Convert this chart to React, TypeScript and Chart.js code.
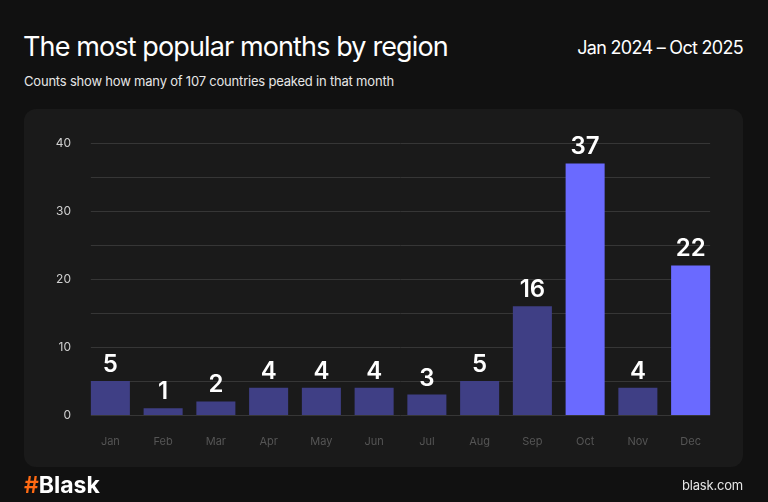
import React, { useEffect, useRef } from 'react';
import { Chart, registerables } from 'chart.js';

Chart.register(...registerables);

const months = ['Jan', 'Feb', 'Mar', 'Apr', 'May', 'Jun', 'Jul', 'Aug', 'Sep', 'Oct', 'Nov', 'Dec'];
const counts = [5, 1, 2, 4, 4, 4, 3, 5, 16, 37, 4, 22];
const highlightedMonths = ['Oct', 'Dec'];
const yTickValues = [0, 10, 20, 30, 40];
const gridValues = [0, 5, 10, 15, 20, 25, 30, 35, 40];

const FONT = 'Inter, "Noto Sans", sans-serif';

const gridPlugin = {
  id: 'customGrid',
  beforeDatasetsDraw(chart: any) {
    const meta = chart.getDatasetMeta(0);
    if (!meta.data.length) return;
    const first = meta.data[0].getProps(['x', 'width'], true);
    const last = meta.data[meta.data.length - 1].getProps(['x', 'width'], true);
    const left = first.x - first.width / 2;
    const right = last.x + last.width / 2;
    const ctx = chart.ctx;
    const ys = chart.scales.y;
    ctx.save();
    ctx.strokeStyle = '#363636';
    ctx.lineWidth = 1;
    gridValues.forEach((v) => {
      const py = Math.round(ys.getPixelForValue(v)) + 0.5;
      ctx.beginPath();
      ctx.moveTo(left, py);
      ctx.lineTo(right, py);
      ctx.stroke();
    });
    ctx.restore();
  },
};

const labelPlugin = {
  id: 'valueLabels',
  afterDatasetsDraw(chart: any) {
    const meta = chart.getDatasetMeta(0);
    const ctx = chart.ctx;
    ctx.save();
    ctx.fillStyle = '#ffffff';
    ctx.font = `600 24px ${FONT}`;
    ctx.textAlign = 'center';
    ctx.textBaseline = 'alphabetic';
    meta.data.forEach((bar: any, i: number) => {
      const p = bar.getProps(['x', 'y'], true);
      ctx.fillText(String(counts[i]), p.x, p.y - 9);
    });
    ctx.restore();
  },
};

export default function App() {
  const canvasRef = useRef<HTMLCanvasElement | null>(null);

  useEffect(() => {
    document.body.style.margin = '0';
    const canvas = canvasRef.current;
    if (!canvas) return;
    const chart = new Chart(canvas, {
      type: 'bar',
      data: {
        labels: months,
        datasets: [
          {
            data: counts,
            backgroundColor: months.map((m) => (highlightedMonths.includes(m) ? '#6a6aff' : '#3f3f85')),
            borderWidth: 0,
            barPercentage: 0.74,
            categoryPercentage: 1,
          },
        ],
      },
      options: {
        responsive: false,
        animation: false,
        devicePixelRatio: 1,
        layout: { padding: { top: 143, right: 51, left: 0, bottom: 0 } },
        plugins: { legend: { display: false }, tooltip: { enabled: false } },
        scales: {
          x: {
            grid: { display: false, drawTicks: false },
            border: { display: false },
            ticks: { color: '#555555', font: { family: FONT, size: 11 }, padding: 20 },
            afterFit: (s: any) => {
              s.height = 87;
            },
          },
          y: {
            min: 0,
            max: 40,
            grid: { display: false, drawTicks: false },
            border: { display: false },
            afterBuildTicks: (s: any) => {
              s.ticks = yTickValues.map((v) => ({ value: v }));
            },
            ticks: { color: '#d0d0d0', font: { family: FONT, size: 12 }, padding: 13 },
            afterFit: (s: any) => {
              s.width = 84;
            },
          },
        },
      },
      plugins: [gridPlugin, labelPlugin],
    });
    return () => chart.destroy();
  }, []);

  return (
    <div
      style={{
        position: 'absolute',
        left: 0,
        top: 0,
        width: 768,
        height: 502,
        background: '#111111',
        overflow: 'hidden',
        fontFamily: FONT,
        color: '#ffffff',
      }}
    >
      <div style={{ position: 'absolute', left: 23, top: 29, fontSize: 27, letterSpacing: -0.88, lineHeight: '36px', whiteSpace: 'nowrap' }}>
        The most popular months by region
      </div>
      <div style={{ position: 'absolute', right: 25, top: 36, fontSize: 18, letterSpacing: -0.7, lineHeight: '24px', whiteSpace: 'nowrap' }}>
        Jan 2024 – Oct 2025
      </div>
      <div style={{ position: 'absolute', left: 24, top: 72, fontSize: 13, letterSpacing: -0.2, lineHeight: '18px', color: '#e6e6e6', whiteSpace: 'nowrap' }}>
        Counts show how many of 107 countries peaked in that month
      </div>
      <div
        style={{
          position: 'absolute',
          left: 24,
          top: 109,
          width: 719,
          height: 358,
          background: '#1a1a1a',
          borderRadius: 12,
        }}
      />
      <canvas ref={canvasRef} width={768} height={502} style={{ position: 'absolute', left: 0, top: 0, width: 768, height: 502 }} />
      <div style={{ position: 'absolute', left: 24, top: 472, fontSize: 23, fontWeight: 700, lineHeight: '26px', whiteSpace: 'nowrap', letterSpacing: 0 }}>
        <span style={{ color: '#ff6a13', fontWeight: 600 }}>#</span>
        <span>Blask</span>
      </div>
      <div style={{ position: 'absolute', right: 25, top: 476, fontSize: 13, lineHeight: '18px', color: '#e6e6e6', whiteSpace: 'nowrap', letterSpacing: -0.2 }}>
        blask.com
      </div>
    </div>
  );
}
